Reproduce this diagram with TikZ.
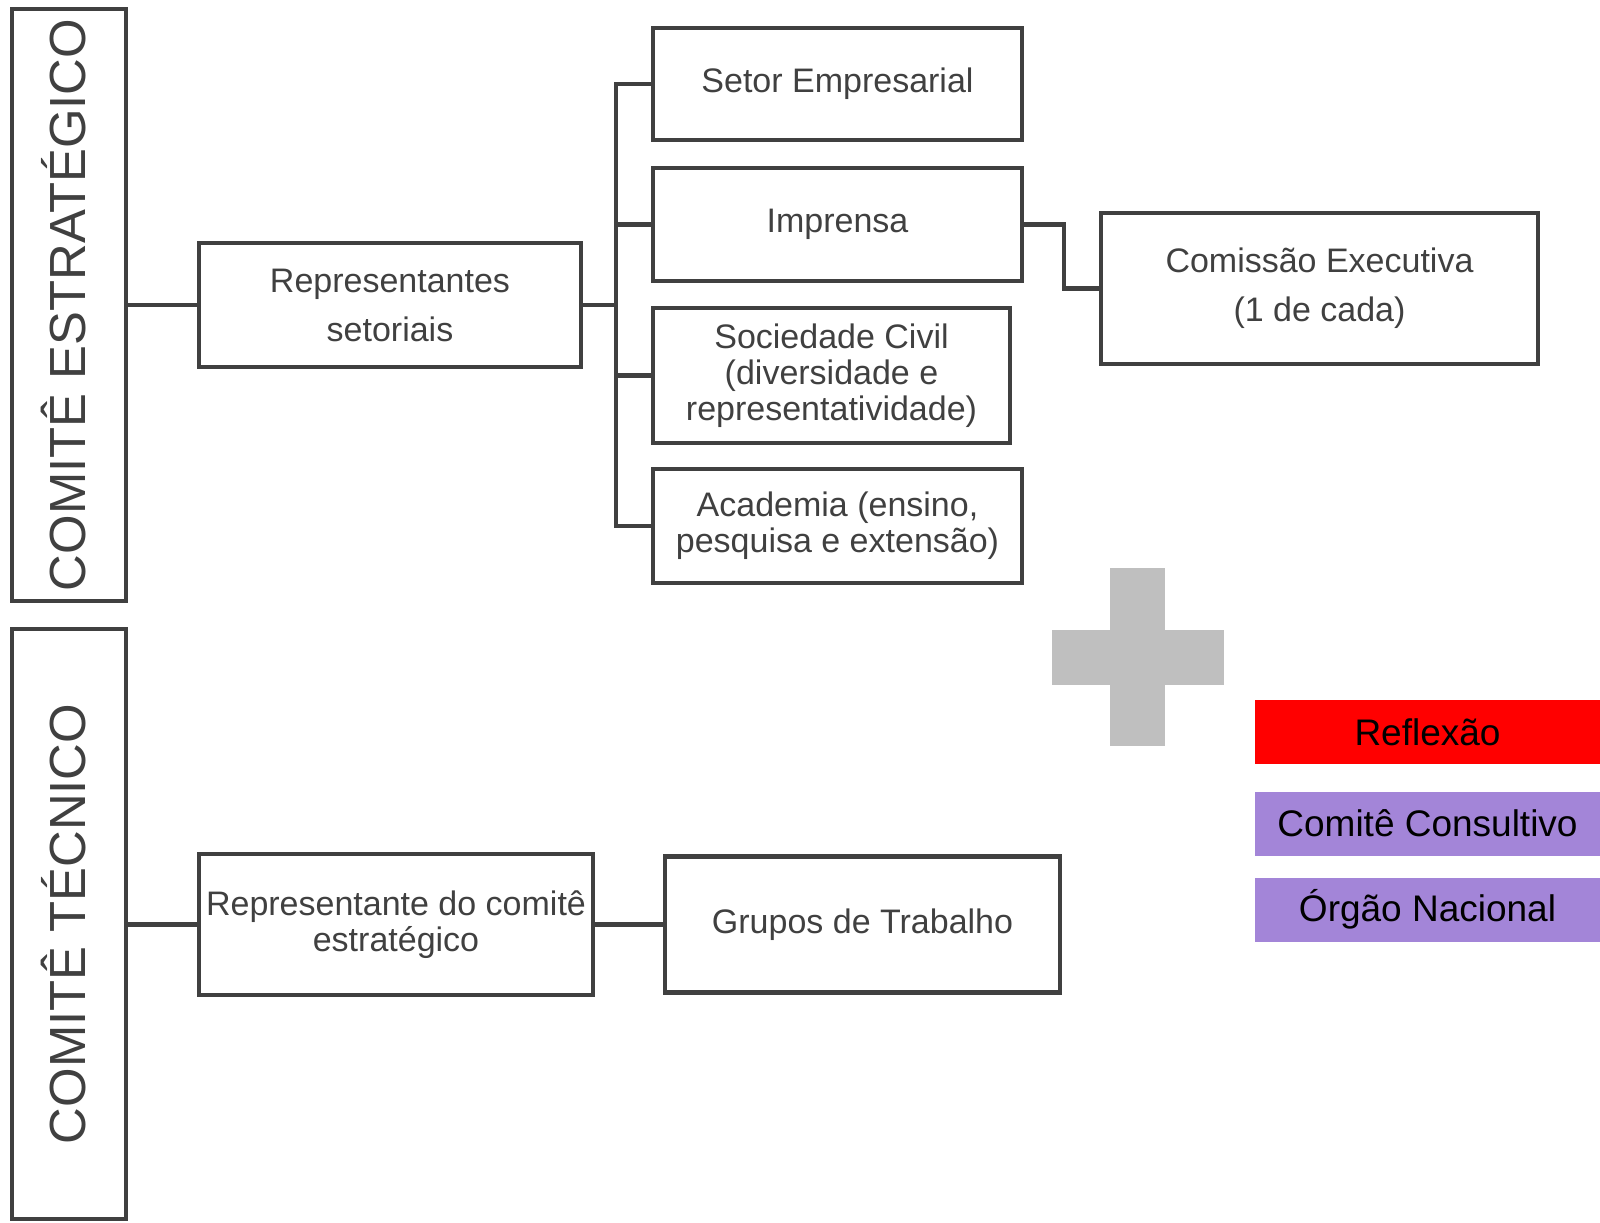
\documentclass[tikz,border=0pt]{standalone}
\usepackage{fontspec}
\setmainfont{Liberation Sans}
\definecolor{linegray}{HTML}{404040}
\definecolor{plusgray}{HTML}{BFBFBF}
\definecolor{legendpurple}{HTML}{A385D8}
\begin{document}
\begin{tikzpicture}[x=0.5pt, y=-0.5pt,
    box/.style={draw=linegray, line width=2.2pt, text=linegray, align=center, inner sep=0pt, font=\fontsize{17}{18}\selectfont},
    widebox/.style={box, font=\fontsize{17}{24.5}\selectfont},
    sidebox/.style={draw=linegray, line width=2.2pt, minimum width=57pt, minimum height=296pt, inner sep=0pt},
    sidetext/.style={rotate=90, text=linegray, inner sep=0pt, font=\fontsize{25.4}{30}\selectfont},
    legend/.style={minimum width=172.5pt, minimum height=32pt, inner sep=0pt, font=\fontsize{18.5}{22}\selectfont},
    conn/.style={draw=linegray, line width=2.2pt}]
    \useasboundingbox (0,0) rectangle (1600,1222);

    % Side boxes
    \node[sidebox] (estr) at (69,305) {};
    \node[sidetext] (estrlabel) at ([xshift=-2.5pt]estr.center) {COMITÊ ESTRATÉGICO};
    \node[sidebox, minimum height=295pt] (tec) at (69,924) {};
    \node[sidetext] (teclabel) at ([xshift=-2.5pt]tec.center) {COMITÊ TÉCNICO};

    % Strategic committee
    \node[widebox, minimum width=191pt, minimum height=62pt] (rep) at (390,305) {Representantes\\setoriais};
    \node[box, minimum width=184.5pt, minimum height=56pt] (setor) at (837.5,84) {Setor Empresarial};
    \node[box, minimum width=184.5pt, minimum height=56.5pt] (imprensa) at (837.5,224.5) {Imprensa};
    \node[box, minimum width=178.5pt, minimum height=67.5pt] (sociedade) at (831.5,375.5) {Sociedade Civil\\(diversidade e\\representatividade)};
    \node[box, minimum width=184.5pt, minimum height=57pt] (academia) at (837.5,526) {Academia (ensino,\\pesquisa e extensão)};
    \node[widebox, minimum width=218.5pt, minimum height=75.5pt] (comissao) at (1319.5,288.5) {Comissão Executiva\\(1 de cada)};

    % Technical committee
    \node[box, minimum width=197pt, minimum height=70.5pt] (repcomite) at (396,924.5) {Representante do comitê\\estratégico};
    \node[box, minimum width=197.5pt, minimum height=68pt] (grupos) at (862.5,924.5) {Grupos de Trabalho};

    % Connectors
    \coordinate (trunk) at (616,305);
    \draw[conn] (estr.east) -- (rep.west);
    \draw[conn] (rep.east) -- (trunk);
    \foreach \b in {setor, imprensa, sociedade, academia}
        \draw[conn] (\b.west) -| (trunk);
    \draw[conn] (imprensa.east) -- ++(40,0) |- (comissao.west);
    \draw[conn] (tec.east |- repcomite.west) -- (repcomite.west);
    \draw[conn] (repcomite.east) -- (grupos.west);

    % Plus sign
    \fill[plusgray] (1110,568) rectangle (1165,746);
    \fill[plusgray] (1052,630) rectangle (1224,685);

    % Legend
    \node[legend, fill=red] (reflexao) at (1427.5,732) {Reflexão};
    \node[legend, fill=legendpurple] (consultivo) at (1427.5,823.5) {Comitê Consultivo};
    \node[legend, fill=legendpurple] (orgao) at (1427.5,909.5) {Órgão Nacional};
\end{tikzpicture}
\end{document}
